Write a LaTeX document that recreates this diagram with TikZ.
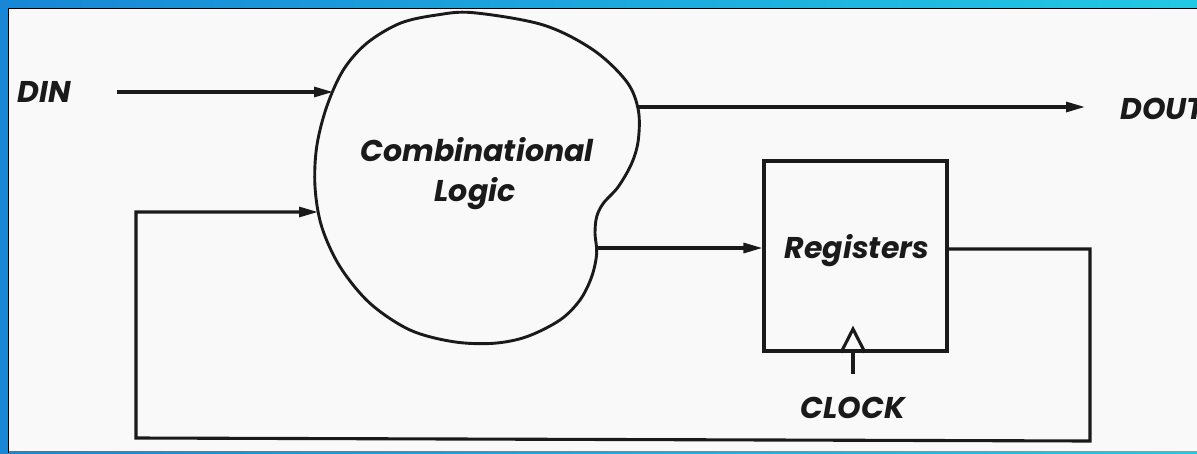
\documentclass[tikz,border=0pt]{standalone}
\usepackage{fontspec}
\newfontfamily\diafont{Poppins}
\usetikzlibrary{arrows.meta}
\definecolor{ink}{HTML}{1A1A1A}
\definecolor{frameL}{HTML}{1787D6}
\definecolor{frameR}{HTML}{22C9E4}
\definecolor{paper}{HTML}{F9F9F9}
\tikzset{
  lbl/.style={font=\diafont\bfseries\itshape\fontsize{30}{32}\selectfont, text=ink, inner sep=0pt},
  wire/.style={draw=ink, line width=3.1pt, line join=miter},
  sig/.style={wire, -{Triangle[length=19pt,width=10pt]}},
  regbox/.style={draw=ink, line width=3.1pt, minimum width=183pt, minimum height=190pt, inner sep=0pt},
}
\begin{document}
\begin{tikzpicture}[x=1pt,y=-1pt]
\useasboundingbox (0,0) rectangle (1197,453);
\clip (0,0) rectangle (1197,453);
% frame and paper
\shade[left color=frameL,right color=frameR] (0,0) rectangle (1197,453);
\fill[paper] (8,8) rectangle (1197,451);
\draw[black,line width=1.5pt] (8.5,453) -- (8.5,8.5) -- (1197,8.5);

% combinational logic blob
\draw[draw=ink, line width=2.9pt] plot[smooth cycle, tension=0.55] coordinates {
  (473.3,12.7) (543.3,25) (593.3,50) (626.7,81.7) (638.3,110) (638.3,140)
  (631.7,163.3) (618.3,186.7) (603.3,203.3) (596.7,216.7) (595,233.3)
  (596.7,253.3) (591.7,276.7) (580,300) (560,320) (526.7,336.7) (493.3,343.3)
  (453.3,341.7) (410,330) (370,303.3) (340,266.7) (321.7,226.7) (315,186.7)
  (316.7,146.7) (326.7,106.7) (343.3,70) (366.7,43.3) (400,23.3) (436.7,15)};

% labels
\node[lbl, anchor=base] (din) at (44,102) {DIN};
\node[lbl, anchor=base west] (dout) at (1120,119) {DOUT};
\node[lbl, anchor=base] (cl1) at (477,161) {Combinational};
\node[lbl, anchor=base] (cl2) at (475,201) {Logic};
\node[regbox] (reg) at (855.5,256) {};
\node[lbl, anchor=base] (regt) at (857,258) {Registers};
\node[lbl, anchor=base] (clk) at (853,418) {CLOCK};

% connection points
\coordinate (bin1) at (333,92);
\coordinate (bin2) at (318,212);
\coordinate (bout1) at (637,107);
\coordinate (bout2) at (597,248);
\coordinate (dinstart) at (117,92);
\coordinate (doutend) at (1085,107);
\coordinate (fbR) at (1090,249);
\coordinate (fbBR) at (1090,441);
\coordinate (fbBL) at (136,438);
\coordinate (fbTL) at (136,212);
\coordinate (clkbot) at (853,374);
\coordinate (clkapex) at (853,329);

% connectors
\draw[sig] (dinstart) -- (bin1);
\draw[sig] (bout1) -- (doutend);
\draw[sig] (bout2) -- (bout2 -| reg.west);
\draw[sig] (reg.east |- fbR) -- (fbR) -- (fbBR) -- (fbBL) -- (fbTL) -- (bin2);
\draw[wire] (clkbot) -- (reg.south -| clkbot);
\draw[wire] ([xshift=-12pt]reg.south -| clkapex) -- (clkapex) -- ([xshift=12pt]reg.south -| clkapex);
\end{tikzpicture}
\end{document}
